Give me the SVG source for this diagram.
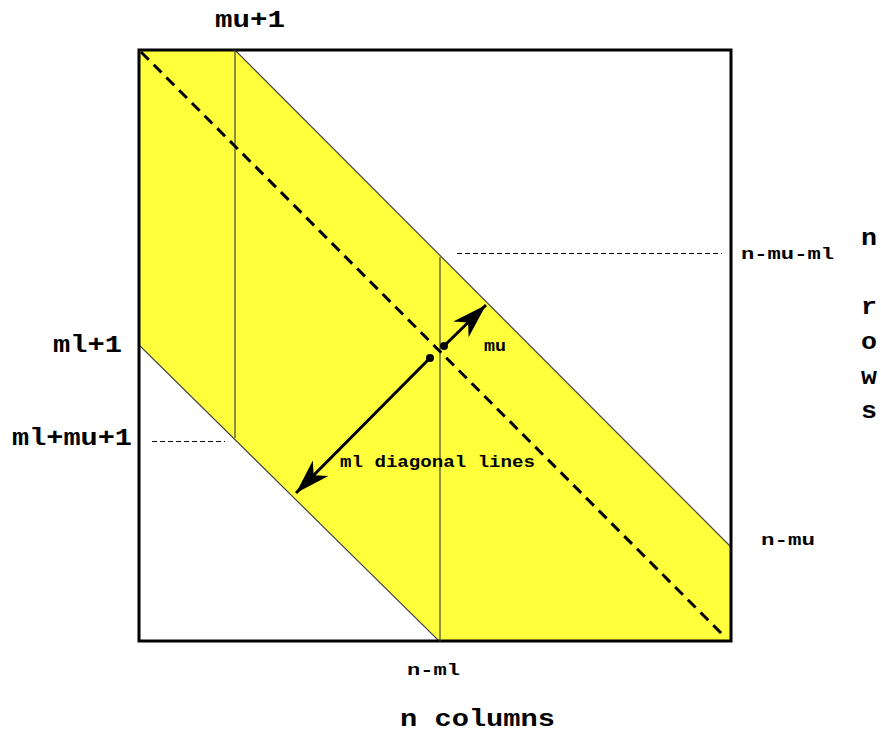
<svg xmlns="http://www.w3.org/2000/svg" width="881" height="734" viewBox="0 0 881 734">
<style>
.t{font-family:"Liberation Mono","Courier New",monospace;font-weight:bold;fill:#000}
.big{font-size:23px}
.sm{font-size:16px}
.thin{stroke:#444;stroke-width:1.2;fill:none}
.dash{stroke:#000;stroke-width:1;stroke-dasharray:5,3;fill:none}
</style>
<defs>
<marker id="ah" markerUnits="userSpaceOnUse" markerWidth="40" markerHeight="30" viewBox="-38 -13 40 26" refX="0" refY="0" orient="auto">
<path d="M0,0 L-35,-11 L-25,0 L-35,11 z" fill="#000"/>
</marker>
</defs>
<rect width="881" height="734" fill="#fff"/>
<g id="band">
<polygon points="139,50 235,50 731,547 731,641 439,641 139,345" fill="#ffff3c" stroke="#444" stroke-width="1.2"/>
</g>
<g id="frame">
<rect x="139" y="50" width="592" height="591" fill="none" stroke="#000" stroke-width="3"/>
</g>
<g id="verticals">
<line class="thin" x1="235" y1="50" x2="235" y2="438"/>
<line class="thin" x1="440" y1="257" x2="440" y2="641"/>
</g>
<g id="connectors">
<line x1="141" y1="52" x2="725" y2="637" stroke="#000" stroke-width="3" stroke-dasharray="11,7"/>
<line class="dash" x1="457" y1="253.5" x2="722" y2="253.5"/>
<line class="dash" x1="152" y1="441.5" x2="225" y2="441.5"/>
<line x1="430" y1="358" x2="296" y2="493" stroke="#000" stroke-width="3" marker-end="url(#ah)"/>
<line x1="444" y1="346" x2="486" y2="305" stroke="#000" stroke-width="3" marker-end="url(#ah)"/>
<circle cx="430" cy="358" r="4" fill="#000"/>
<circle cx="444" cy="346" r="4" fill="#000"/>
</g>
<g id="labels">
<text class="t big" x="215" y="27" textLength="70" lengthAdjust="spacingAndGlyphs">mu+1</text>
<text class="t big" x="53" y="352" textLength="69" lengthAdjust="spacingAndGlyphs">ml+1</text>
<text class="t big" x="12" y="445" textLength="120" lengthAdjust="spacingAndGlyphs">ml+mu+1</text>
<text class="t sm" x="741" y="259" textLength="93" lengthAdjust="spacingAndGlyphs">n-mu-ml</text>
<text class="t sm" x="484" y="351" textLength="22" lengthAdjust="spacingAndGlyphs">mu</text>
<text class="t sm" x="340" y="467" textLength="195" lengthAdjust="spacingAndGlyphs">ml diagonal lines</text>
<text class="t sm" x="761" y="545" textLength="54" lengthAdjust="spacingAndGlyphs">n-mu</text>
<text class="t sm" x="407" y="675" textLength="53" lengthAdjust="spacingAndGlyphs">n-ml</text>
<text class="t big" x="400" y="726" textLength="155" lengthAdjust="spacingAndGlyphs">n columns</text>
<text class="t big" x="861" y="245" textLength="16" lengthAdjust="spacingAndGlyphs">n</text>
<text class="t big" x="861" y="314" textLength="16" lengthAdjust="spacingAndGlyphs">r</text>
<text class="t big" x="861" y="349" textLength="16" lengthAdjust="spacingAndGlyphs">o</text>
<text class="t big" x="861" y="384" textLength="16" lengthAdjust="spacingAndGlyphs">w</text>
<text class="t big" x="861" y="418" textLength="16" lengthAdjust="spacingAndGlyphs">s</text>
</g>
</svg>
